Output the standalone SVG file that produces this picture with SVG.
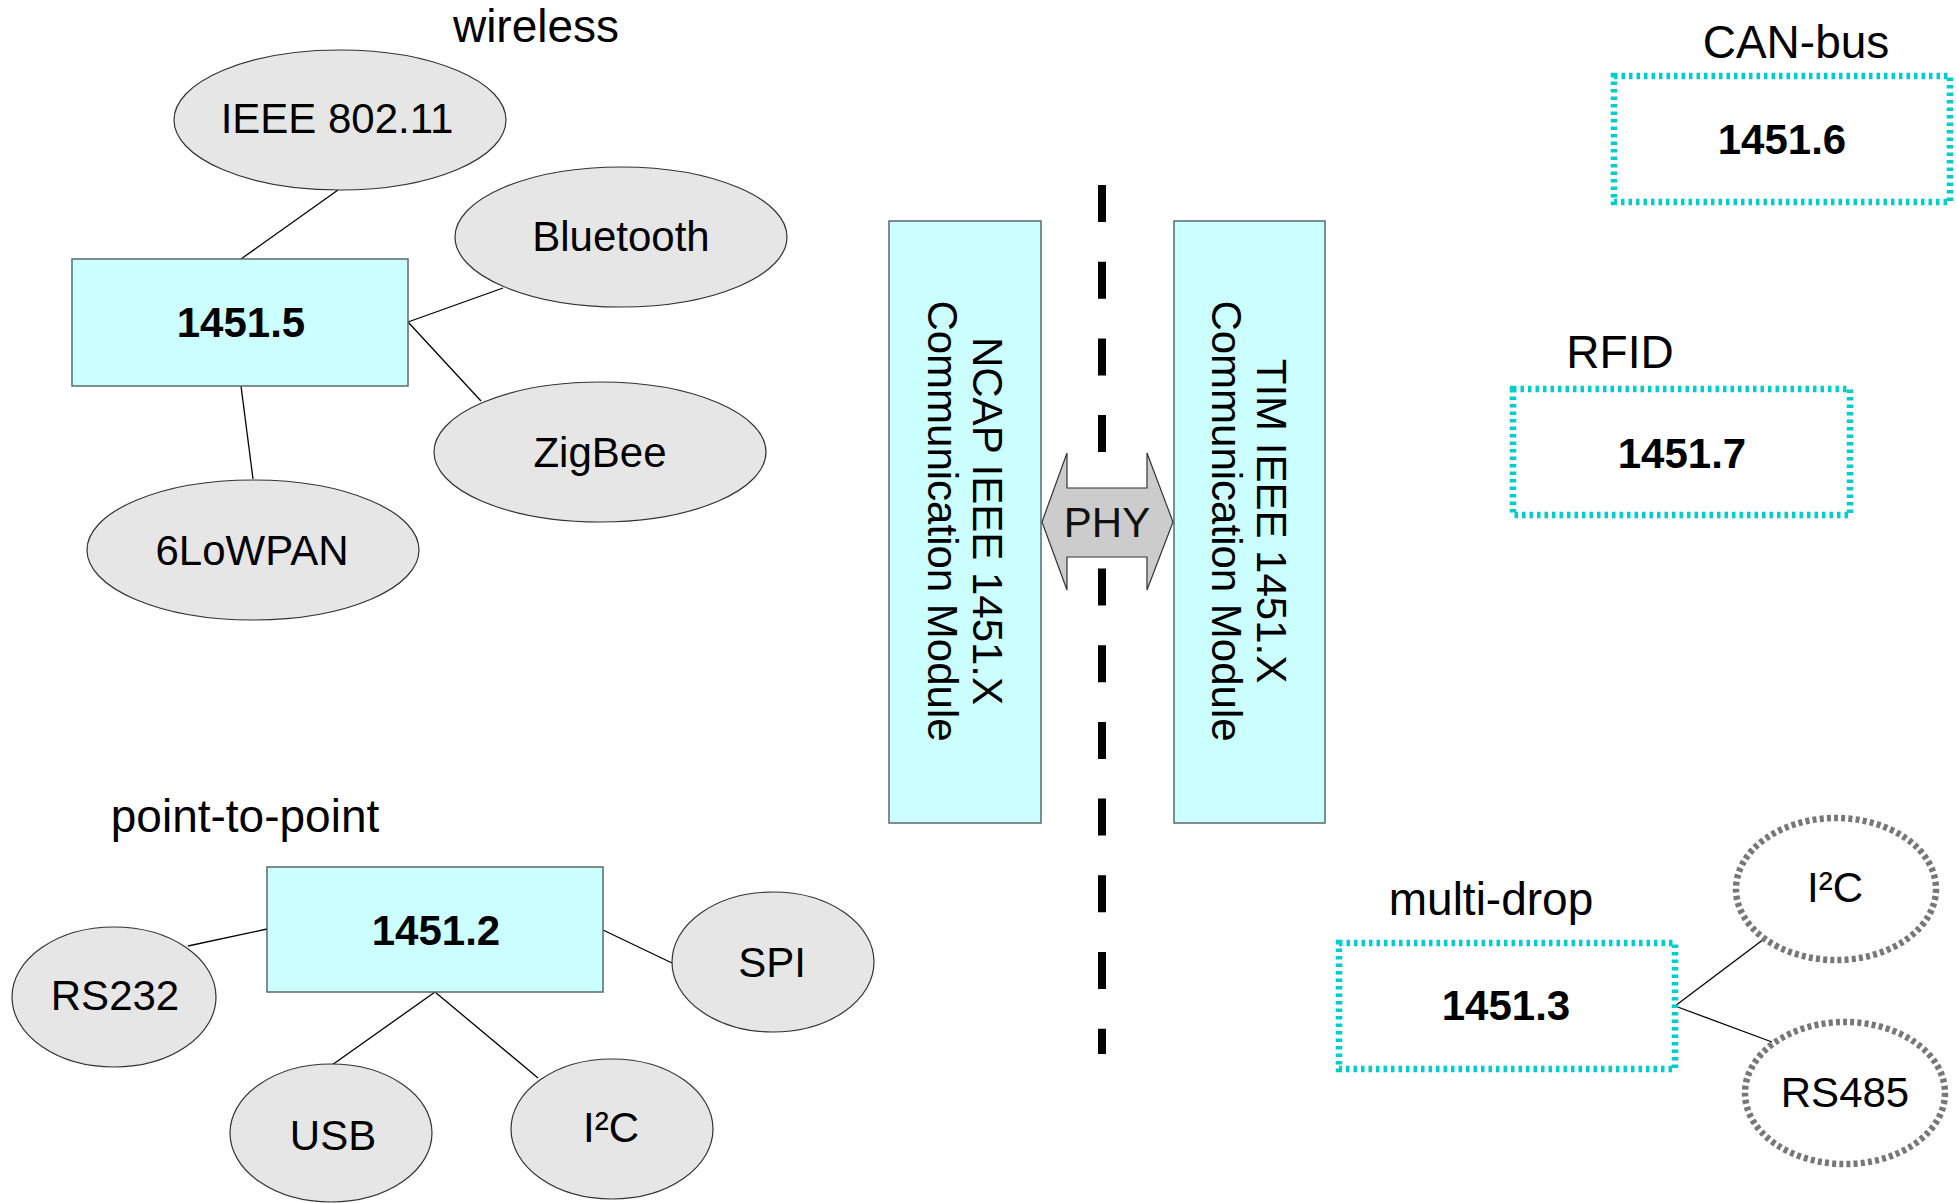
<svg xmlns="http://www.w3.org/2000/svg" width="1956" height="1203" viewBox="0 0 1956 1203">
<style>
text{font-family:"Liberation Sans",Arial,sans-serif;fill:#000;text-anchor:middle}
.hdr{font-size:46px}
.lbl{font-size:42px}
.bold{font-size:42px;font-weight:bold}
.vt{font-size:42px}
.box{fill:#ccffff;stroke:#5a6a6a;stroke-width:1.5}
.ell{fill:#e6e6e6;stroke:#333;stroke-width:1.2}
.dbox{fill:none;stroke:#00cccc;stroke-width:6.5;stroke-dasharray:3.5 4}
.dell{fill:none;stroke:#777;stroke-width:6.5;stroke-dasharray:4 3.2}
.con{stroke:#000;stroke-width:1.3;fill:none}
</style>
<rect width="1956" height="1203" fill="#fff"/>
<g id="labels">
<text class="hdr" x="536" y="42">wireless</text>
<text class="hdr" x="1796" y="58">CAN-bus</text>
<text class="hdr" x="1620" y="368">RFID</text>
<text class="hdr" x="245" y="832">point-to-point</text>
<text class="hdr" x="1491" y="915">multi-drop</text>
</g>
<g id="connectors">
<line class="con" x1="338" y1="190" x2="241" y2="259"/>
<line class="con" x1="503" y1="288" x2="408" y2="322"/>
<line class="con" x1="408" y1="322" x2="481" y2="401"/>
<line class="con" x1="241" y1="386" x2="253" y2="479"/>
<line class="con" x1="188" y1="946" x2="267" y2="929"/>
<line class="con" x1="603" y1="930" x2="672" y2="963"/>
<line class="con" x1="435" y1="992" x2="332" y2="1065"/>
<line class="con" x1="435" y1="992" x2="538" y2="1078"/>
<line class="con" x1="1675" y1="1006" x2="1764" y2="939"/>
<line class="con" x1="1675" y1="1006" x2="1772" y2="1042"/>
<line x1="1102" y1="185" x2="1102" y2="1054" stroke="#000" stroke-width="8" stroke-dasharray="37 39.7"/>
</g>
<g id="n1451_5"><rect class="box" x="72" y="259" width="336" height="127"/><text class="bold" x="241" y="337">1451.5</text></g>
<g id="ieee80211"><ellipse class="ell" cx="340" cy="120" rx="166" ry="70"/><text class="lbl" x="337" y="133">IEEE 802.11</text></g>
<g id="bluetooth"><ellipse class="ell" cx="621" cy="237" rx="166" ry="70"/><text class="lbl" x="621" y="251">Bluetooth</text></g>
<g id="zigbee"><ellipse class="ell" cx="600" cy="452" rx="166" ry="70"/><text class="lbl" x="600" y="467">ZigBee</text></g>
<g id="sixlowpan"><ellipse class="ell" cx="253" cy="550" rx="166" ry="70"/><text class="lbl" x="252" y="565">6LoWPAN</text></g>
<g id="ncap"><rect class="box" x="889" y="221" width="152" height="602"/>
<text class="vt" transform="translate(973,521) rotate(90)">NCAP IEEE 1451.X</text>
<text class="vt" transform="translate(928,521) rotate(90)">Communication Module</text></g>
<g id="tim"><rect class="box" x="1174" y="221" width="151" height="602"/>
<text class="vt" transform="translate(1257,521) rotate(90)">TIM IEEE 1451.X</text>
<text class="vt" transform="translate(1212,521) rotate(90)">Communication Module</text></g>
<g id="phy"><polygon points="1042,522 1067,453 1067,488 1147,488 1147,453 1173,522 1147,590 1147,557 1067,557 1067,590" fill="#cccccc" stroke="#333" stroke-width="1.2"/>
<text class="lbl" x="1107" y="537" style="fill:#111">PHY</text></g>
<g id="n1451_6"><rect class="dbox" x="1614" y="76" width="336" height="126"/><text class="bold" x="1782" y="154">1451.6</text></g>
<g id="n1451_7"><rect class="dbox" x="1513" y="389" width="337" height="126"/><text class="bold" x="1682" y="468">1451.7</text></g>
<g id="n1451_2"><rect class="box" x="267" y="867" width="336" height="125"/><text class="bold" x="436" y="945">1451.2</text></g>
<g id="rs232"><ellipse class="ell" cx="114" cy="997" rx="102" ry="70"/><text class="lbl" x="115" y="1010">RS232</text></g>
<g id="spi"><ellipse class="ell" cx="773" cy="962" rx="101" ry="70"/><text class="lbl" x="772" y="977">SPI</text></g>
<g id="usb"><ellipse class="ell" cx="331" cy="1133" rx="101" ry="69"/><text class="lbl" x="333" y="1150">USB</text></g>
<g id="i2c_p2p"><ellipse class="ell" cx="612" cy="1129" rx="101" ry="70"/><text class="lbl" x="611" y="1142">I²C</text></g>
<g id="n1451_3"><rect class="dbox" x="1339" y="943" width="336" height="126"/><text class="bold" x="1506" y="1020">1451.3</text></g>
<g id="i2c_md"><ellipse class="dell" cx="1836" cy="889" rx="100" ry="71"/><text class="lbl" x="1835" y="902">I²C</text></g>
<g id="rs485"><ellipse class="dell" cx="1845" cy="1093" rx="100" ry="71"/><text class="lbl" x="1845" y="1107">RS485</text></g>
</svg>
